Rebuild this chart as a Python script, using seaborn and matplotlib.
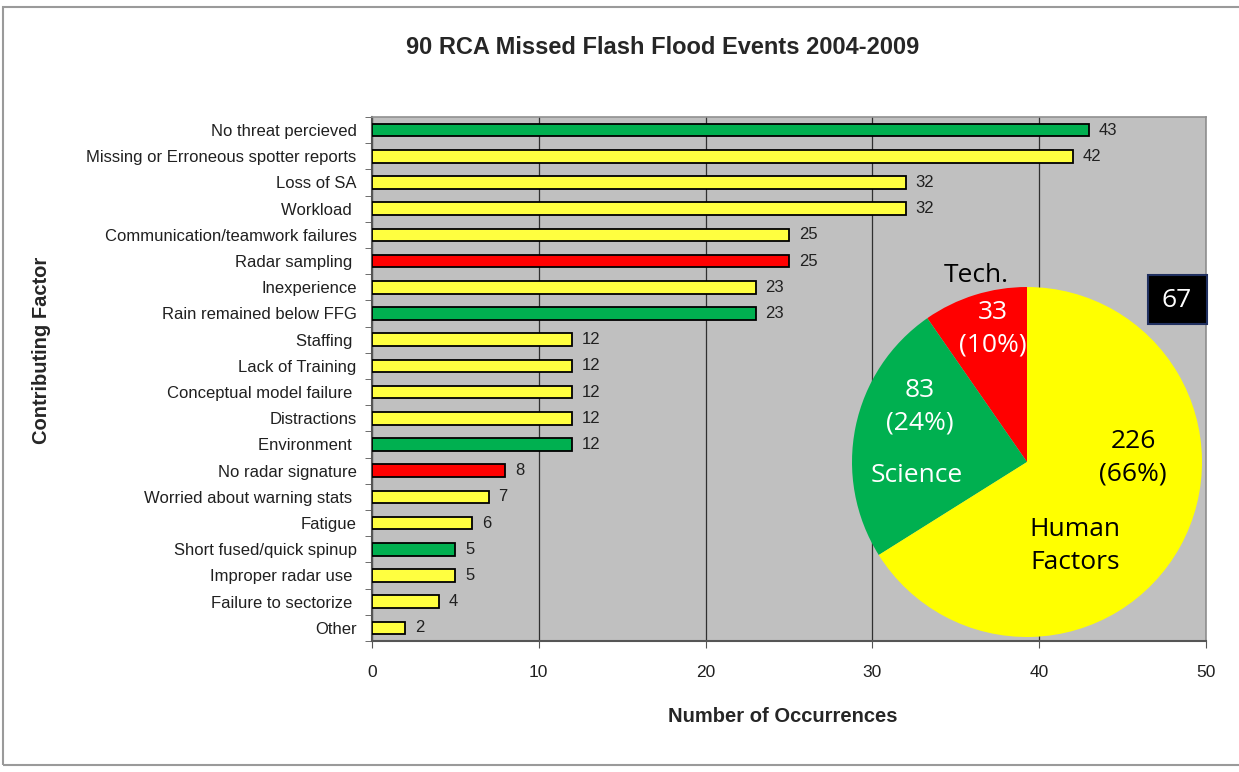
import matplotlib
matplotlib.use("Agg")
import matplotlib.pyplot as plt
import seaborn as sns
from matplotlib.patches import Rectangle

# data
factors = ["No threat percieved", "Missing or Erroneous spotter reports", "Loss of SA",
           "Workload ", "Communication/teamwork failures", "Radar sampling ",
           "Inexperience", "Rain remained below FFG", "Staffing ", "Lack of Training",
           "Conceptual model failure ", "Distractions", "Environment ",
           "No radar signature", "Worried about warning stats ", "Fatigue",
           "Short fused/quick spinup", "Improper radar use ", "Failure to sectorize ", "Other"]
counts = [43, 42, 32, 32, 25, 25, 23, 23, 12, 12, 12, 12, 12, 8, 7, 6, 5, 5, 4, 2]
groups = ["Science", "Human", "Human", "Human", "Human", "Tech", "Human", "Science",
          "Human", "Human", "Human", "Human", "Science", "Tech", "Human", "Human",
          "Science", "Human", "Human", "Human"]

pie_labels = ["Tech.", "Science", "Human Factors"]
pie_values = [33, 83, 226]
pie_pcts = ["10%", "24%", "66%"]
box_value = 67

group_colors = {"Science": "#00B050", "Human": "#FFFF40", "Tech": "#FF0000"}
bar_colors = [group_colors[g] for g in groups]

W, H = 1239, 772
fig = plt.figure(figsize=(W / 100, H / 100), dpi=100)
sns.set_style("white")
plt.rcParams["font.family"] = ["Liberation Sans", "DejaVu Sans"]

def fx(px):
    return px / W

def fy(py):
    return 1 - py / H

# outer frame
fig.patches.append(Rectangle((fx(3), fy(765)), 1.0, fy(7) - fy(765), transform=fig.transFigure,
                             fill=False, edgecolor="#9a9a9a", linewidth=1.5))

ax = fig.add_axes([fx(372), fy(641), fx(1206) - fx(372), fy(117) - fy(641)])
sns.barplot(x=counts, y=factors, hue=factors, palette=bar_colors, orient="h", width=0.48,
            saturation=1, edgecolor="black", linewidth=1.3, legend=False, ax=ax, zorder=3)
ax.set_facecolor("#C0C0C0")
ax.set_xlim(0, 50)
ax.set_ylim(len(factors) - 0.5, -0.5)
ax.set_xticks(range(0, 51, 10))
ax.grid(axis="x", color="#303030", linewidth=0.9, zorder=0)
ax.set_axisbelow(True)
for c in ax.containers:
    ax.bar_label(c, padding=7, fontsize=12, color="#202020")

ax.tick_params(axis="y", which="major", length=0, labelsize=12, pad=11, labelcolor="#202020")
ax.set_yticks([i + 0.5 for i in range(-1, len(factors))], minor=True)
ax.tick_params(axis="y", which="minor", length=5, direction="out", color="#555555", left=True)
ax.tick_params(axis="x", length=5, direction="out", color="#555555", labelsize=12.5, pad=12,
               labelcolor="#202020", bottom=True)
for s in ["top", "right"]:
    ax.spines[s].set_color("#909090")
    ax.spines[s].set_linewidth(1.2)
for s in ["left", "bottom"]:
    ax.spines[s].set_color("#555555")
    ax.spines[s].set_linewidth(1.5)

fig.text(fx(663), fy(47), "90 RCA Missed Flash Flood Events 2004-2009", fontsize=17,
         fontweight="bold", ha="center", va="center")
fig.text(fx(783), fy(716), "Number of Occurrences", fontsize=14.5, fontweight="bold",
         ha="center", va="center")
fig.text(fx(42), fy(350), "Contributing Factor", fontsize=14.5, fontweight="bold",
         ha="center", va="center", rotation=90)

# pie inset
cx, cy, r = 1027, 462, 175
pax = fig.add_axes([fx(cx - r), fy(cy + r), 2 * r / W, 2 * r / H])
pax.pie(pie_values, colors=["#FF0000", "#00B050", "#FFFF00"], startangle=90,
        counterclock=True, radius=1.0, wedgeprops={"edgecolor": "none", "linewidth": 0})
pax.set_xlim(-1, 1)
pax.set_ylim(-1, 1)
pax.set_aspect("equal")
pax.axis("off")

def pt(px, py):
    return (px - cx) / r, (cy - py) / r

pf = ["Open Sans", "DejaVu Sans"]
fs = 19
ls = 1.4
pax.text(*pt(976, 276), pie_labels[0], fontsize=fs, color="black", ha="center", va="center",
         family=pf, clip_on=False)
pax.text(*pt(993, 329), f"{pie_values[0]}\n({pie_pcts[0]})", fontsize=fs, color="white",
         ha="center", va="center", family=pf, linespacing=ls)
pax.text(*pt(920, 407), f"{pie_values[1]}\n({pie_pcts[1]})", fontsize=fs, color="white",
         ha="center", va="center", family=pf, linespacing=ls)
pax.text(*pt(917, 476), pie_labels[1], fontsize=fs, color="white", ha="center", va="center",
         family=pf)
pax.text(*pt(1133, 458), f"{pie_values[2]}\n({pie_pcts[2]})", fontsize=fs, color="black",
         ha="center", va="center", family=pf, linespacing=ls)
pax.text(*pt(1075, 546), "Human\nFactors", fontsize=fs, color="black", ha="center",
         va="center", family=pf, linespacing=ls)

# black box with number
fig.patches.append(Rectangle((fx(1148), fy(324)), fx(1207) - fx(1148), fy(275) - fy(324),
                             transform=fig.transFigure, facecolor="black", edgecolor="#203060",
                             linewidth=1.5, zorder=5))
fig.text(fx(1177), fy(300), str(box_value), fontsize=fs, color="white", ha="center",
         va="center", family=pf, zorder=6)

fig.savefig("out.png", dpi=100)
